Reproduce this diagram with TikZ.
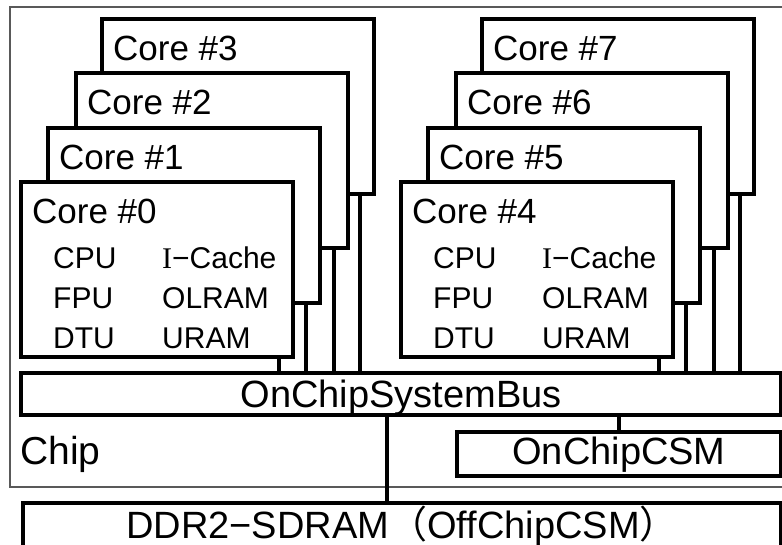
\documentclass[tikz,border=0pt]{standalone}
\usepackage{fontspec}
\setmainfont{Liberation Sans}
\newfontfamily\cjkfont{Noto Sans CJK JP}
\newfontfamily\seriffont{Liberation Serif}
\begin{document}
\begin{tikzpicture}[x=1pt,y=-1pt,
  box/.style={draw, line width=3.5pt, fill=white, rectangle, inner sep=0pt,
              outer sep=0pt, anchor=north west},
  core/.style={box, minimum width=272pt, minimum height=175pt},
  link/.style={line width=3.5pt},
  corelabel/.style={anchor=base west, inner sep=0pt, font=\fontsize{35}{38}\selectfont},
  unit/.style={anchor=base west, inner sep=0pt, font=\fontsize{30}{32}\selectfont},
  biglabel/.style={anchor=base, inner sep=0pt, font=\fontsize{38}{40}\selectfont}]
\clip (0,0) rectangle (782,544);
\useasboundingbox (0,0) rectangle (782,544);

% chip outline
\node[draw=black!65, line width=1.3pt, rectangle, inner sep=0pt, outer sep=0pt,
      anchor=north west, minimum width=800pt, minimum height=480pt] (chip) at (10,7) {};

% left cluster, back to front
\node[core] (c3) at (102,19) {};
\node[core] (c2) at (76,73) {};
\node[core] (c1) at (48,128) {};
\node[core] (c0) at (21,182) {};
% right cluster, back to front
\node[core] (c7) at (482,19) {};
\node[core] (c6) at (456,73) {};
\node[core] (c5) at (428,128) {};
\node[core] (c4) at (401,182) {};

% core titles
\foreach \c/\t in {c0/0,c1/1,c2/2,c3/3,c4/4,c5/5,c6/6,c7/7}
  \node[corelabel] at ([shift={(11,41)}]\c.north west) {Core \#\t};

% units inside cores #0 and #4
\foreach \c in {c0,c4}{
  \node[unit] at ([shift={(32,86)}]\c.north west) {CPU};
  \node[unit] at ([shift={(32,126)}]\c.north west) {FPU};
  \node[unit] at ([shift={(32,166)}]\c.north west) {DTU};
  \node[unit] at ([shift={(141,86)}]\c.north west) {{\seriffont I}−Cache};
  \node[unit] at ([shift={(141,126)}]\c.north west) {OLRAM};
  \node[unit] at ([shift={(141,166)}]\c.north west) {URAM};
}

% system bus and memories
\node[box, minimum width=760pt, minimum height=42pt] (bus) at (21,373) {};
\node[biglabel] at ([shift={(0,34)}]bus.north) {OnChipSystemBus};

\node[box, minimum width=324pt, minimum height=44pt] (csm) at (457,432) {};
\node[biglabel] at ([shift={(0,32)}]csm.north) {OnChipCSM};

\node[box, minimum width=758pt, minimum height=70pt] (ddr) at (23,503) {};
\node[biglabel] at ([shift={(0,35)}]ddr.north) {DDR2−SDRAM{\cjkfont （}OffChipCSM{\cjkfont ）}};

\node[anchor=base west, inner sep=0pt, font=\fontsize{39}{41}\selectfont] at (20,464) {Chip};

% core-to-bus links
\foreach \c in {c0,c1,c2,c3,c4,c5,c6,c7}
  \draw[link] ([shift={(-14,0)}]\c.south east) -- ([shift={(-14,0)}]\c.south east |- bus.north);

% bus-to-memory links
\draw[link] (bus.south -| csm.north) -- (csm.north);
\draw[link] ([shift={(-14,0)}]bus.south) -- ([shift={(-14,0)}]bus.south |- ddr.north);
\end{tikzpicture}
\end{document}
